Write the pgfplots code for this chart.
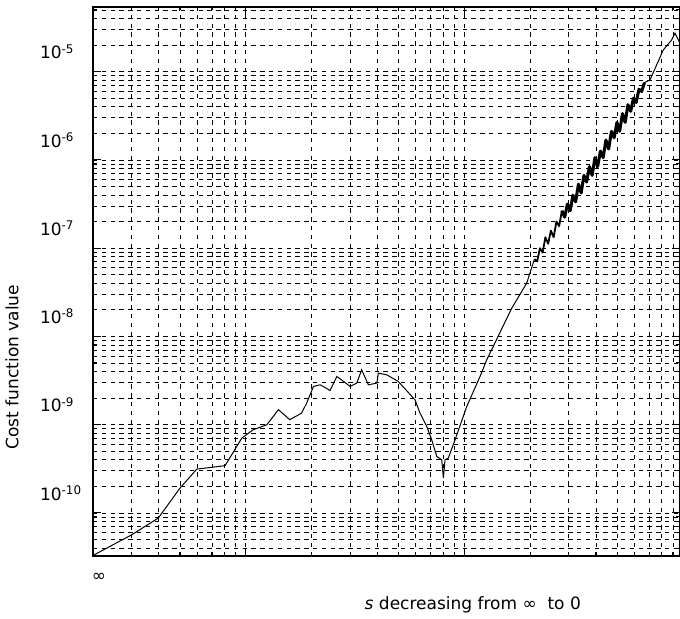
\documentclass[border=0pt]{standalone}
\usepackage{fontspec}
\setmainfont{DejaVu Sans}
\usepackage{pgfplots}
\pgfplotsset{compat=1.18}

\begin{document}
\begin{tikzpicture}
\begin{axis}[
    scale only axis,
    width=293.5pt, height=274.5pt,
    xmode=log, ymode=log,
    xmin=2, xmax=970,
    ymin=3.25e-11, ymax=5.4e-5,
    xtick={2,10,100},
    xticklabels={∞,,},
    minor xtick={3,4,5,6,7,8,9,20,30,40,50,60,70,80,90,200,300,400,500,600,700,800,900},
    ytick={1e-10,1e-9,1e-8,1e-7,1e-6,1e-5},
    yticklabels={10\textsuperscript{-10},10\textsuperscript{-9},10\textsuperscript{-8},
                 10\textsuperscript{-7},10\textsuperscript{-6},10\textsuperscript{-5}},
    minor ytick={4e-11,5e-11,6e-11,7e-11,8e-11,9e-11,
                 2e-10,3e-10,4e-10,5e-10,6e-10,7e-10,8e-10,9e-10,
                 2e-9,3e-9,4e-9,5e-9,6e-9,7e-9,8e-9,9e-9,
                 2e-8,3e-8,4e-8,5e-8,6e-8,7e-8,8e-8,9e-8,
                 2e-7,3e-7,4e-7,5e-7,6e-7,7e-7,8e-7,9e-7,
                 2e-6,3e-6,4e-6,5e-6,6e-6,7e-6,8e-6,9e-6,
                 2e-5,3e-5,4e-5,5e-5},
    grid=both,
    major grid style={black, line width=0.4pt, dash pattern=on 2.2pt off 2.2pt},
    minor grid style={black, line width=0.4pt, dash pattern=on 2.2pt off 2.2pt},
    tick align=inside,
    major tick length=4pt, minor tick length=2pt,
    tick style={black, line width=0.5pt},
    axis line style={line width=1pt},
    tick label style={font=\fontsize{8.5}{10}\selectfont},
    yticklabel style={anchor=west, xshift=-30pt, yshift=10pt},
    xticklabel style={yshift=-5pt, xshift=3pt},
    label style={font=\fontsize{8.5}{10}\selectfont},
    ylabel={Cost function value},
    ylabel style={at={(axis description cs:-0.138,0.344)}, anchor=center},
    xlabel={\textit{s} decreasing from ∞\ \ to 0},
    xlabel style={at={(axis description cs:0.647,-0.098)}, anchor=base},
]
% smooth part of the curve
\addplot[black, line width=0.5pt] coordinates {
    (2.0,3.3e-11) (3.01,5.66e-11) (3.98,8.75e-11) (5.0,1.91e-10) (5.97,3.14e-10)
    (8.04,3.43e-10) (9.59,7.05e-10) (10.8,8.75e-10) (12.5,1.0e-9) (14.1,1.48e-9)
    (15.9,1.14e-9) (18.0,1.35e-9) (19.0,1.76e-9) (20.4,2.71e-9) (21.9,2.83e-9)
    (24.3,2.44e-9) (26.1,3.52e-9) (29.0,2.90e-9) (30.0,2.71e-9) (32.2,2.96e-9)
    (33.9,4.19e-9) (36.4,2.83e-9) (39.8,2.96e-9) (40.4,3.84e-9) (44.2,3.67e-9)
    (49.9,3.08e-9) (59.5,1.91e-9) (62.7,1.35e-9) (67.3,9.55e-10) (70.9,6.75e-10)
    (74.8,4.37e-10) (78.8,4.0e-10) (80.2,2.48e-10) (81.6,4.0e-10) (84.5,4.19e-10)
    (90.7,6.75e-10) (102.6,1.61e-9) (118,3.52e-9) (126.6,5.43e-9) (164.8,2.09e-8)
    (193,4.02e-8) (209.2,7.50e-8)
};
% noisy stretch, lower (thinner) part
\addplot[black, line width=0.9pt, line join=round] coordinates {
    (209.2,7.50e-8) (215.4,7.08e-8) (221.7,1.00e-7) (228.2,8.91e-8) (234.9,1.33e-7)
    (241.8,1.12e-7) (248.9,1.58e-7) (256.3,1.33e-7) (263.8,2.00e-7) (271.5,1.78e-7)
    (279.5,2.66e-7)
};
% noisy stretch, upper (heavier) part
\addplot[black, line width=1.5pt, line join=round] coordinates {
    (279.5,2.66e-7) (287.8,2.24e-7) (296.2,3.16e-7) (304.9,2.66e-7) (313.9,3.98e-7)
    (323.1,3.35e-7) (332.6,5.31e-7) (342.4,4.22e-7) (352.5,6.68e-7) (362.8,5.62e-7)
    (373.5,8.41e-7) (384.5,6.68e-7) (395.8,1.06e-6) (407.4,8.41e-7) (419.4,1.26e-6)
    (431.7,1.06e-6) (444.4,1.68e-6) (457.5,1.33e-6) (470.9,2.11e-6) (484.8,1.78e-6)
    (499.0,2.66e-6) (513.7,2.11e-6) (528.8,3.35e-6) (544.4,2.66e-6) (560.4,4.22e-6)
    (576.9,3.55e-6) (593.8,5.01e-6) (611.3,4.47e-6) (629.3,6.31e-6) (647.8,5.96e-6)
    (666.8,7.50e-6)
};
\addplot[black, line width=0.5pt] coordinates {
    (666.8,7.50e-6) (707,8.05e-6) (813,1.76e-5) (889,2.29e-5) (920,2.72e-5)
    (953,2.29e-5) (970,2.1e-5)
};
\end{axis}
\pgfresetboundingbox
\path (-46.5pt,-31pt) rectangle (293.5pt,278pt);
\end{tikzpicture}
\end{document}
